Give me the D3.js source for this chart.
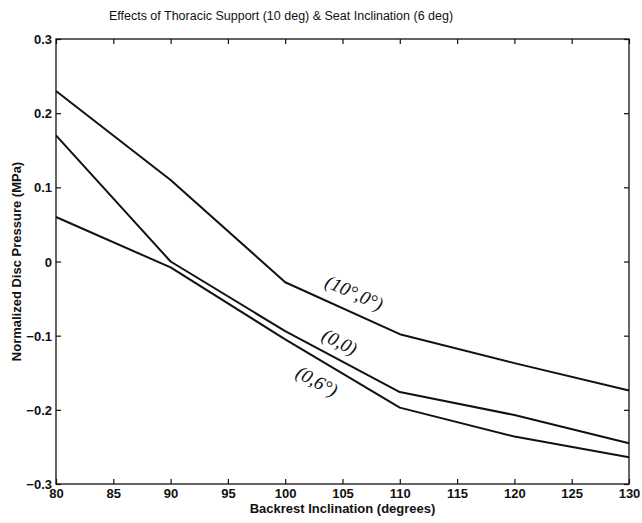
<!DOCTYPE html>
<html>
<head>
<meta charset="utf-8">
<script src="https://cdn.jsdelivr.net/npm/d3@7"></script>
<style>
    body { margin: 0; background: #fff; }
    svg text { font-family: "Liberation Sans", Arial, sans-serif; fill: #111; }
</style>
</head>
<body>
<div id="chart"></div>
<script>
// backrest inclination (deg)
const inclination = [80, 90, 100, 110, 120, 130];
// normalized disc pressure (MPa) per configuration
const thoracic10 = [0.23, 0.11, -0.028, -0.098, -0.137, -0.174];
const neutral = [0.17, 0.0, -0.094, -0.176, -0.207, -0.245];
const seat6 = [0.06, -0.008, -0.105, -0.197, -0.236, -0.264];
const seriesNames = ['(10°,0°)', '(0,0)', '(0,6°)'];
const xTicks = [80, 85, 90, 95, 100, 105, 110, 115, 120, 125, 130];
const yTicks = [0.3, 0.2, 0.1, 0, -0.1, -0.2, -0.3];

const width = 642, height = 523;
const margin = {top: 39, right: 13, bottom: 39, left: 56};

const svg = d3.select('#chart')
    .append('svg')
    .attr('width', width)
    .attr('height', height);

let x = d3.scaleLinear().domain([80, 130]).range([margin.left, width - margin.right]);
let y = d3.scaleLinear().domain([-0.3, 0.3]).range([height - margin.bottom, margin.top]);

// frame
svg.append('rect')
    .attr('x', x(80))
    .attr('y', y(0.3))
    .attr('width', x(130) - x(80))
    .attr('height', y(-0.3) - y(0.3))
    .style('fill', 'none')
    .style('stroke', '#111')
    .style('stroke-width', 1.3);

// axes, ticks pointing inward
const fmtY = d => d === 0 ? '0' : d3.format('.1f')(d);
let bottomAxis = svg.append('g')
    .attr('transform', `translate(0,${y(-0.3)})`)
    .call(d3.axisBottom(x).tickValues(xTicks).tickSize(-5).tickPadding(4).tickFormat(d3.format('d')));
let topAxis = svg.append('g')
    .attr('transform', `translate(0,${y(0.3)})`)
    .call(d3.axisTop(x).tickValues(xTicks).tickSize(-5).tickFormat(''));
let leftAxis = svg.append('g')
    .attr('transform', `translate(${x(80)},0)`)
    .call(d3.axisLeft(y).tickValues(yTicks).tickSize(-5).tickPadding(4).tickFormat(fmtY));
let rightAxis = svg.append('g')
    .attr('transform', `translate(${x(130)},0)`)
    .call(d3.axisRight(y).tickValues(yTicks).tickSize(-5).tickFormat(''));

[bottomAxis, topAxis, leftAxis, rightAxis].forEach(a => {
    a.select('.domain').remove();
    a.selectAll('line').style('stroke', '#111').style('stroke-width', 1.2);
    a.selectAll('text')
        .style('font-family', '"Liberation Sans", Arial, sans-serif')
        .style('font-size', '13px')
        .style('font-weight', 'bold')
        .style('fill', '#111');
});
// bottom labels sit just under the frame (ticks point inward, so no offset from them)
bottomAxis.selectAll('text').attr('y', 4).attr('dy', '0.75em');
leftAxis.selectAll('text').attr('dy', '0.35em');

// lines
let line = d3.line()
    .x((d, i) => x(inclination[i]))
    .y(d => y(d));
[thoracic10, neutral, seat6].forEach(values => {
    svg.append('path')
        .datum(values)
        .attr('d', line)
        .style('fill', 'none')
        .style('stroke', '#111')
        .style('stroke-width', 2)
        .style('stroke-linejoin', 'round');
});

// curve labels (positioned along the 100-110 deg segments)
const labelPos = [
    {at: 105.8, v: -0.050, rot: 24},
    {at: 104.5, v: -0.116, rot: 27},
    {at: 102.5, v: -0.169, rot: 28}
];
seriesNames.forEach((name, i) => {
    let p = labelPos[i];
    svg.append('text')
        .attr('transform', `translate(${x(p.at)},${y(p.v)}) rotate(${p.rot})`)
        .attr('text-anchor', 'middle')
        .style('font-family', '"Liberation Serif", "Times New Roman", serif')
        .style('font-style', 'italic')
        .style('font-size', '19px')
        .text(name);
});

// titles
svg.append('text')
    .attr('x', 281)
    .attr('y', 20)
    .attr('text-anchor', 'middle')
    .style('font-size', '12.5px')
    .text('Effects of Thoracic Support (10 deg) & Seat Inclination (6 deg)');

svg.append('text')
    .attr('x', x(105))
    .attr('y', 513)
    .attr('text-anchor', 'middle')
    .style('font-size', '13px')
    .style('font-weight', 'bold')
    .text('Backrest Inclination (degrees)');

svg.append('text')
    .attr('transform', `translate(21,${y(0)}) rotate(-90)`)
    .attr('text-anchor', 'middle')
    .style('font-size', '13px')
    .style('font-weight', 'bold')
    .text('Normalized Disc Pressure (MPa)');
</script>
</body>
</html>
